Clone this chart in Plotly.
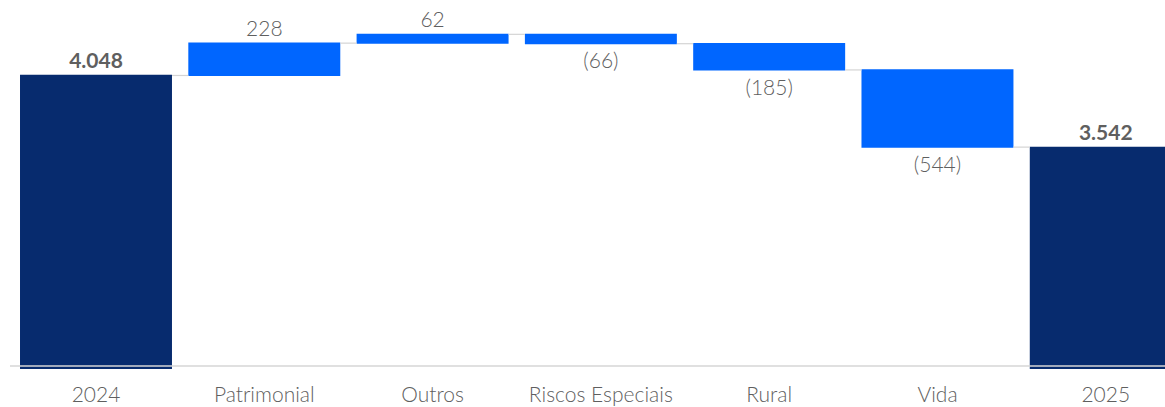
import plotly.graph_objects as go

categories = ["2024", "Patrimonial", "Outros", "Riscos Especiais", "Rural", "Vida", "2025"]
values = [4048, 228, 62, -66, -185, -544, 3542]
measures = ["absolute", "relative", "relative", "relative", "relative", "relative", "absolute"]


def fmt(v, m):
    s = f"{abs(v):,}".replace(",", ".")
    if m == "absolute":
        return f"<b>{s}</b>"
    return f"({s})" if v < 0 else s


labels = [fmt(v, m) for v, m in zip(values, measures)]

NAVY = "#072B6E"
BLUE = "#0066FF"
TXT = "#5f5f5f"

fig = go.Figure(go.Waterfall(
    x=categories,
    y=values,
    measure=measures,
    text=labels,
    textposition="outside",
    textfont=dict(family="Lato", size=21, color=TXT, weight=300),
    cliponaxis=False,
    width=0.903,
    increasing=dict(marker=dict(color=BLUE, line=dict(width=0))),
    decreasing=dict(marker=dict(color=BLUE, line=dict(width=0))),
    totals=dict(marker=dict(color=NAVY, line=dict(width=0))),
    connector=dict(mode="between", line=dict(color="#d4d4d4", width=1.2)),
))

fig.update_layout(
    width=1165, height=407,
    margin=dict(l=10, r=0, t=0, b=38, autoexpand=False),
    plot_bgcolor="white", paper_bgcolor="white",
    showlegend=False,
    font=dict(family="Lato", size=21, color=TXT),
    xaxis=dict(range=[-0.511, 6.352], showgrid=False, zeroline=False, showline=False,
               automargin=False,
               ticks="outside", ticklen=7, tickcolor="rgba(0,0,0,0)",
               tickfont=dict(family="Lato", size=21, color=TXT, weight=300)),
    yaxis=dict(range=[1979, 4580], visible=False, showgrid=False, zeroline=False,
               automargin=False),
    shapes=[dict(type="line", xref="paper", yref="y", x0=0, x1=1, y0=2000, y1=2000,
                 line=dict(color="#d6d6d6", width=1.5), layer="above")],
)

fig.write_html("out.html", config={"displayModeBar": False},
               post_script="document.body.style.margin='0';document.body.style.overflow='hidden';")
